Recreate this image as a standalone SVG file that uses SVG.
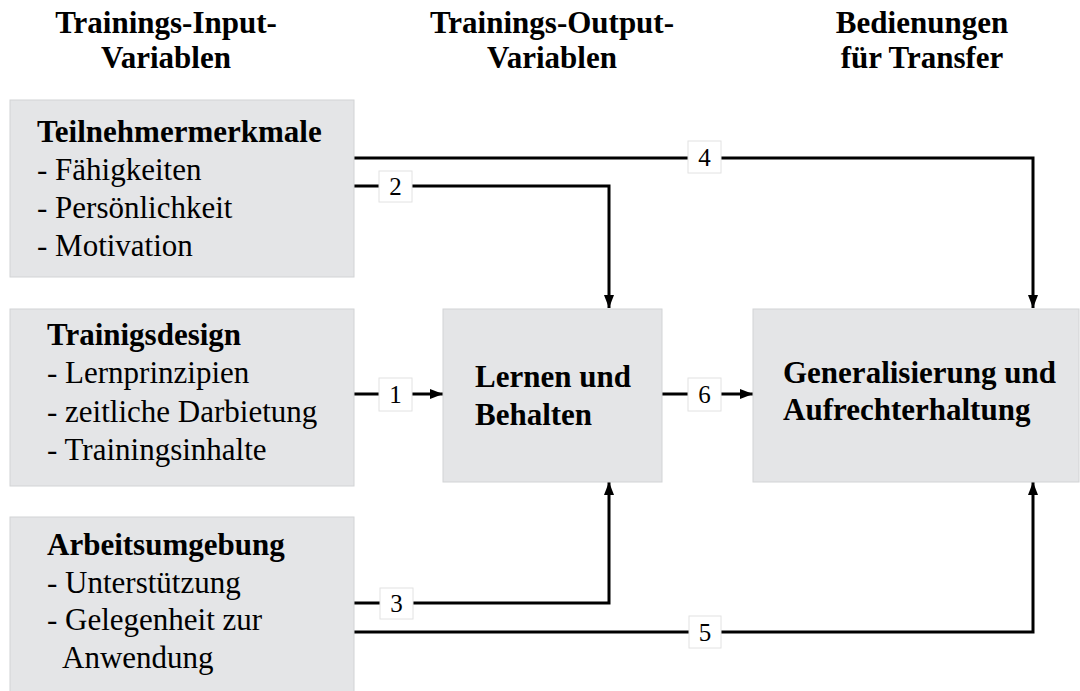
<svg xmlns="http://www.w3.org/2000/svg" width="1080" height="691" viewBox="0 0 1080 691">
<style>
text { font-family: "Liberation Serif", "Times New Roman", serif; fill: #000; }
.h { font-size: 31px; font-weight: bold; text-anchor: middle; }
.t { font-size: 31px; }
.b { font-weight: bold; }
.box { fill: #e4e5e7; stroke: #d2d3d5; stroke-width: 1; }
.ln { fill: none; stroke: #000; stroke-width: 3; }
.lb { fill: #fff; stroke: #e2e2e2; stroke-width: 1; }
.num { font-size: 25px; text-anchor: middle; }
</style>
<defs>
<marker id="ah" viewBox="0 0 13 10" refX="13" refY="5" markerWidth="13" markerHeight="10" markerUnits="userSpaceOnUse" orient="auto">
<path d="M0,0 L13,5 L0,10 z" fill="#000"/>
</marker>
</defs>
<rect width="1080" height="691" fill="#fff"/>

<g id="headers">
<text class="h" x="166" y="33">Trainings-Input-</text>
<text class="h" x="166" y="68">Variablen</text>
<text class="h" x="552" y="33">Trainings-Output-</text>
<text class="h" x="552" y="68">Variablen</text>
<text class="h" x="922" y="33">Bedienungen</text>
<text class="h" x="922" y="68">für Transfer</text>
</g>

<g id="connectors">
<polyline class="ln" points="354,158 1033,158 1033,308" marker-end="url(#ah)"/>
<polyline class="ln" points="354,186 609,186 609,308" marker-end="url(#ah)"/>
<line class="ln" x1="354" y1="394" x2="443" y2="394" marker-end="url(#ah)"/>
<line class="ln" x1="662" y1="394" x2="753" y2="394" marker-end="url(#ah)"/>
<polyline class="ln" points="354,603 609,603 609,482" marker-end="url(#ah)"/>
<polyline class="ln" points="354,632 1033,632 1033,482" marker-end="url(#ah)"/>
<rect class="lb" x="688" y="141" width="33" height="32"/>
<text class="num" x="704.5" y="166">4</text>
<rect class="lb" x="379" y="171" width="33" height="31"/>
<text class="num" x="395.5" y="195">2</text>
<rect class="lb" x="379" y="378" width="33" height="33"/>
<text class="num" x="395.5" y="403">1</text>
<rect class="lb" x="688" y="378" width="33" height="33"/>
<text class="num" x="704.5" y="403">6</text>
<rect class="lb" x="380" y="588" width="33" height="31"/>
<text class="num" x="396.5" y="612">3</text>
<rect class="lb" x="689" y="616" width="32" height="32"/>
<text class="num" x="705" y="641">5</text>
</g>

<g id="node-teilnehmer">
<rect class="box" x="10" y="100" width="344" height="177"/>
<text class="t" x="37" y="142"><tspan class="b">Teilnehmermerkmale</tspan></text>
<text class="t" x="37" y="180">- Fähigkeiten</text>
<text class="t" x="37" y="218">- Persönlichkeit</text>
<text class="t" x="37" y="256">- Motivation</text>
</g>

<g id="node-design">
<rect class="box" x="10" y="309" width="344" height="177"/>
<text class="t" x="47" y="345"><tspan class="b">Trainigsdesign</tspan></text>
<text class="t" x="47" y="383">- Lernprinzipien</text>
<text class="t" x="47" y="422">- zeitliche Darbietung</text>
<text class="t" x="47" y="460">- Trainingsinhalte</text>
</g>

<g id="node-arbeit">
<rect class="box" x="10" y="517" width="344" height="180"/>
<text class="t" x="47" y="555"><tspan class="b">Arbeitsumgebung</tspan></text>
<text class="t" x="47" y="593">- Unterstützung</text>
<text class="t" x="47" y="630">- Gelegenheit zur</text>
<text class="t" x="62" y="668">Anwendung</text>
</g>

<g id="node-lernen">
<rect class="box" x="443" y="309" width="219" height="173"/>
<text class="t b" x="475" y="387">Lernen und</text>
<text class="t b" x="475" y="425">Behalten</text>
</g>

<g id="node-generalisierung">
<rect class="box" x="753" y="309" width="326" height="173"/>
<text class="t b" x="783" y="383">Generalisierung und</text>
<text class="t b" x="783" y="420">Aufrechterhaltung</text>
</g>
</svg>
